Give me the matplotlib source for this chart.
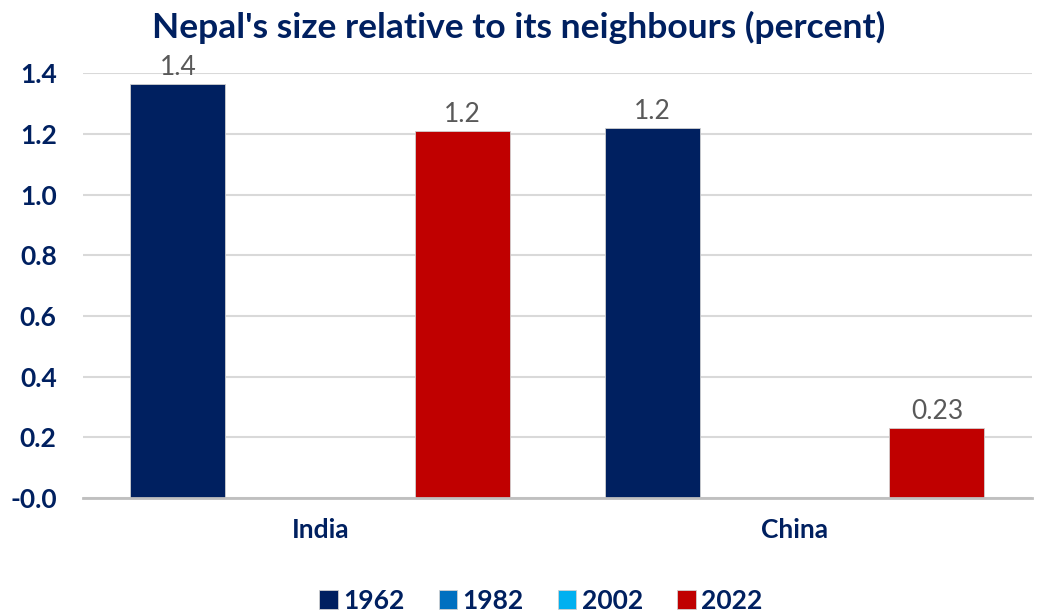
import numpy as np
import matplotlib.pyplot as plt

plt.rcParams['font.family'] = ['Lato', 'DejaVu Sans']

# Data
countries = ["India", "China"]
years = ["1962", "1982", "2002", "2022"]
share_1962 = [1.364, 1.219]
share_1982 = [np.nan, np.nan]
share_2002 = [np.nan, np.nan]
share_2022 = [1.209, 0.23]
y_ticks = [0.0, 0.2, 0.4, 0.6, 0.8, 1.0, 1.2, 1.4]
y_tick_labels = ["-0.0", "0.2", "0.4", "0.6", "0.8", "1.0", "1.2", "1.4"]

series = [share_1962, share_1982, share_2002, share_2022]
colors = ["#002060", "#0070C0", "#00B0F0", "#C00000"]
navy = "#002060"
label_grey = "#595959"

fig = plt.figure(figsize=(10.38, 6.15), dpi=100)
ax = fig.add_axes([0.080, 0.190, 0.914, 0.691])

x = np.arange(len(countries))
n = len(series)
width = 0.8 / n
for i, (vals, col, yr) in enumerate(zip(series, colors, years)):
    pos = x - 0.4 + width * (i + 0.5)
    bars = ax.bar(pos, vals, width=width, color=col, label=yr,
                  edgecolor="#d0d0d0", linewidth=0.6, zorder=3)
    for b, v in zip(bars, vals):
        if np.isfinite(v):
            ax.text(b.get_x() + b.get_width() / 2, v + 0.015, f"{v:.2g}",
                    ha="center", va="bottom", fontsize=19, color=label_grey,
                    zorder=4)

ax.set_xlim(-0.5, len(countries) - 0.5)
ax.set_ylim(0, 1.4)
ax.set_yticks(y_ticks)
ax.set_yticklabels(y_tick_labels)
ax.set_xticks(x)
ax.set_xticklabels(countries)
ax.tick_params(axis="both", length=0, labelsize=19, labelcolor=navy)
ax.tick_params(axis="x", pad=14)
ax.tick_params(axis="y", pad=19)
for lab in ax.get_xticklabels() + ax.get_yticklabels():
    lab.set_fontweight("bold")

ax.yaxis.grid(True, color="#d9d9d9", linewidth=1.5, zorder=0)
ax.set_axisbelow(True)
for s in ["top", "right", "left"]:
    ax.spines[s].set_visible(False)
ax.spines["bottom"].set_color("#bfbfbf")
ax.spines["bottom"].set_linewidth(2)
ax.spines["bottom"].set_zorder(5)

fig.text(0.5, 0.955, "Nepal's size relative to its neighbours (percent)",
         ha="center", va="center", fontsize=25.5, fontweight="bold", color=navy)

leg = fig.legend(loc="lower center", bbox_to_anchor=(0.521, -0.035), ncol=4,
                 frameon=False, handlelength=0.7, handleheight=0.7,
                 handletextpad=0.2, columnspacing=1.3, fontsize=19)
for t in leg.get_texts():
    t.set_color(navy)
    t.set_fontweight("bold")

fig.savefig("out.png", dpi=100)
